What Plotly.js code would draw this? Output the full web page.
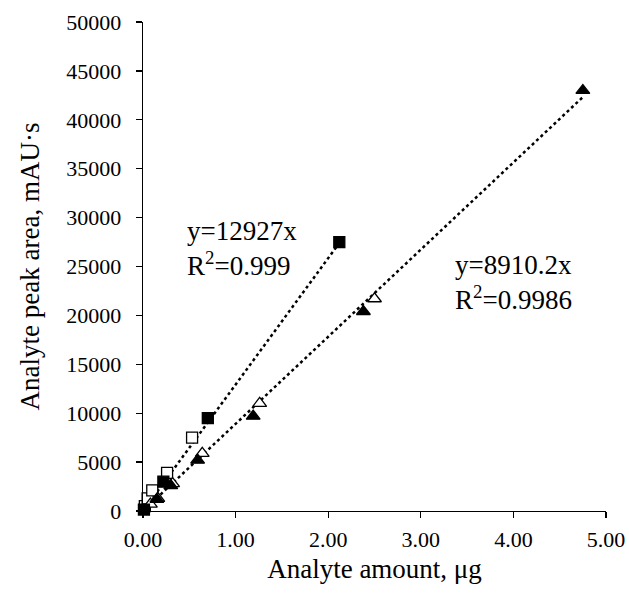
<!DOCTYPE html>
<html>
<head>
<meta charset="utf-8">
<script src="https://cdn.plot.ly/plotly-3.0.1.min.js"></script>
<style>html,body{margin:0;padding:0;background:#fff;}#chart{width:629px;height:599px;}</style>
</head>
<body>
<div id="chart"></div>
<script>
// Filled squares
const sqFillX = [0.01, 0.22, 0.70, 2.12];
const sqFillY = [150, 3000, 9500, 27500];
// Open squares
const sqOpenX = [0.02, 0.05, 0.10, 0.26, 0.53];
const sqOpenY = [500, 1300, 2100, 3900, 7500];
// Filled triangles
const triFillX = [0.15, 0.30, 0.59, 1.19, 2.38, 4.75];
const triFillY = [1200, 2600, 5200, 9700, 20400, 43000];
// Open triangles
const triOpenX = [0.08, 0.16, 0.32, 0.64, 1.26, 2.50];
const triOpenY = [700, 1300, 2800, 5900, 11000, 21700];
// Trend slopes
const slopeSq = 12927;
const slopeTri = 8910.2;
const xTicks = [0, 1, 2, 3, 4, 5];
const yTicks = [0, 5000, 10000, 15000, 20000, 25000, 30000, 35000, 40000, 45000, 50000];

const fam = 'Liberation Serif, Times New Roman, serif';
const F = (s) => ({family: fam, size: s, color: '#000'});
const mk = (sym, fill, size) => ({symbol: sym, size: size, color: fill, line: {color: '#000', width: 1.3}});

const sqEnd = Math.max(...sqFillX);
const triEnd = Math.max(...triFillX);

const traces = [
  {x: [0, sqEnd], y: [0, slopeSq * sqEnd], mode: 'lines', line: {color: '#000', width: 2.5, dash: 'dot'}, hoverinfo: 'skip'},
  {x: [0, triEnd], y: [0, slopeTri * triEnd], mode: 'lines', line: {color: '#000', width: 2.5, dash: 'dot'}, hoverinfo: 'skip'},
  {x: sqOpenX, y: sqOpenY, mode: 'markers', marker: mk('square', '#fff', 11)},
  {x: triOpenX, y: triOpenY, mode: 'markers', marker: mk('triangle-up', '#fff', 12)},
  {x: sqFillX, y: sqFillY, mode: 'markers', marker: mk('square', '#000', 11)},
  {x: triFillX, y: triFillY, mode: 'markers', marker: mk('triangle-up', '#000', 12)}
];

const layout = {
  width: 629, height: 599,
  margin: {l: 143, r: 23, t: 22, b: 88},
  paper_bgcolor: '#fff', plot_bgcolor: '#fff',
  showlegend: false,
  font: F(22),
  xaxis: {
    range: [0, 5], tickvals: xTicks, tickformat: '.2f',
    showgrid: false, zeroline: false, showline: true, linecolor: '#000', linewidth: 1.3,
    ticks: 'outside', ticklen: 6, tickcolor: '#000', tickwidth: 1.3,
    tickfont: F(22), ticklabelstandoff: 2,
    title: {text: 'Analyte amount, μg', font: F(27), standoff: 8}
  },
  yaxis: {
    range: [0, 50000], tickvals: yTicks, tickformat: 'd',
    showgrid: false, zeroline: false, showline: true, linecolor: '#000', linewidth: 1.3,
    ticks: 'outside', ticklen: 6, tickcolor: '#000', tickwidth: 1.3,
    tickfont: F(22), ticklabelstandoff: 10,
    title: {text: 'Analyte peak area, mAU·s', font: F(27), standoff: 18}
  },
  annotations: [
    {x: 0.45, y: 26800, xref: 'x', yref: 'y', xanchor: 'left', yanchor: 'middle', showarrow: false, align: 'left',
     text: 'y=12927x<br>R<sup>2</sup>=0.999', font: F(27)},
    {x: 3.35, y: 23400, xref: 'x', yref: 'y', xanchor: 'left', yanchor: 'middle', showarrow: false, align: 'left',
     text: 'y=8910.2x<br>R<sup>2</sup>=0.9986', font: F(27)}
  ]
};
traces.forEach(t => { t.cliponaxis = false; });
Plotly.newPlot('chart', traces, layout, {displayModeBar: false, staticPlot: true});
</script>
</body>
</html>
